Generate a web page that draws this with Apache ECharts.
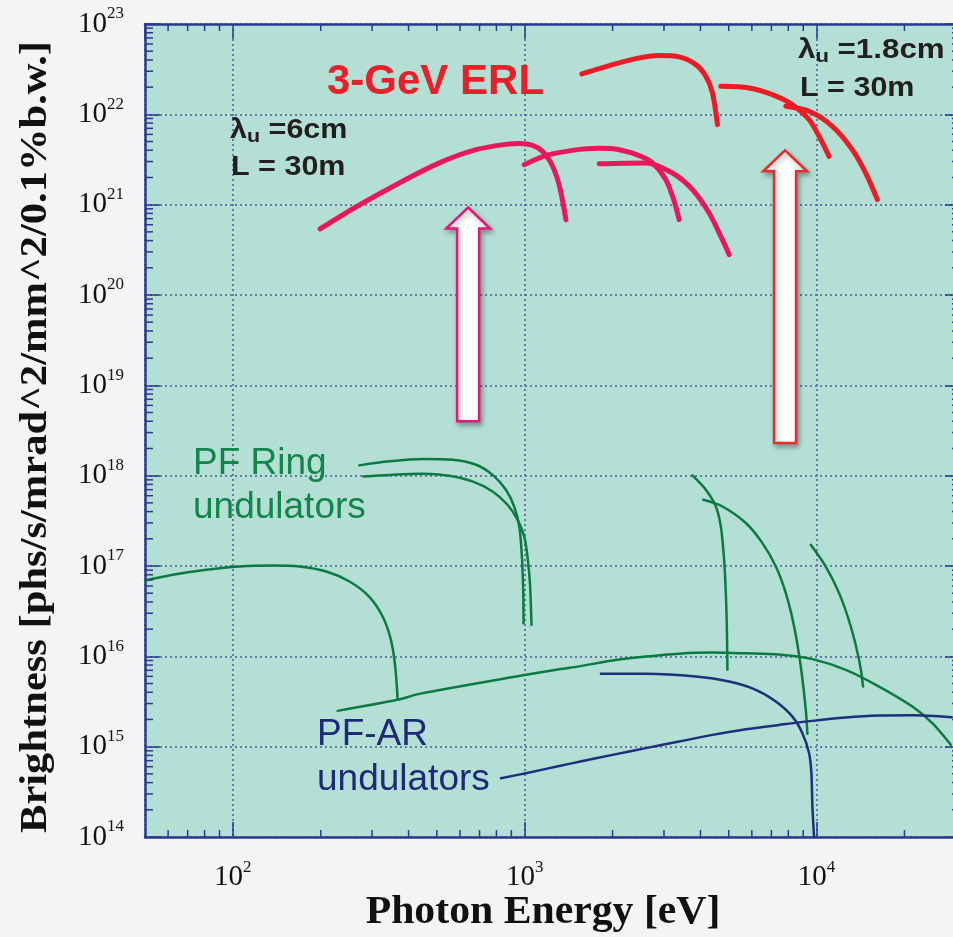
<!DOCTYPE html>
<html><head><meta charset="utf-8">
<script src="https://cdn.jsdelivr.net/npm/echarts@6/dist/echarts.min.js"></script>
<style>html,body{margin:0;padding:0;background:#f3f5f4;overflow:hidden}#c{width:953px;height:937px}</style>
</head><body><div id="c"></div>
<script>
// ---------- axis ranges & ticks ----------
const xMin = 50, xMax = 31000;
const yMin = 1e14, yMax = 1e23;
const xMinorTicks = [60,70,80,90,200,300,400,500,600,700,800,900,2000,3000,4000,5000,6000,7000,8000,9000,20000,30000];
const yMinorTicks = [];
for (let k = 14; k < 23; k++) { for (let m = 2; m <= 9; m++) yMinorTicks.push(m * Math.pow(10, k)); }

// ---------- 3-GeV ERL, lambda_u = 6 cm ----------
const erl6_a = [[199,5.38e20],[264,9.43e20],[372,1.74e21],[510,2.90e21],[681,4.06e21],[862,4.65e21],[960,4.75e21],[1060,4.55e21],[1151,3.89e21],[1230,2.90e21],[1290,2.0e21],[1335,1.3e21],[1384,6.82e20]];
const erl6_b = [[996,2.77e21],[1182,3.49e21],[1458,3.99e21],[1799,4.20e21],[2107,4.06e21],[2467,3.49e21],[2740,2.90e21],[3045,1.89e21],[3250,1.1e21],[3382,6.82e20]];
const erl6_c = [[1799,2.84e21],[2601,2.90e21],[3208,2.24e21],[3755,1.47e21],[4283,8.09e20],[4758,4.10e20],[5016,2.80e20]];
// ---------- 3-GeV ERL, lambda_u = 1.8 cm ----------
const erl18_a = [[1570,2.80e22],[1947,3.46e22],[2403,4.14e22],[2888,4.47e22],[3382,4.32e22],[3857,3.55e22],[4174,2.64e22],[4397,1.73e22],[4575,7.69e21]];
const erl18_b = [[4698,2.04e22],[5873,1.96e22],[7058,1.65e22],[8264,1.28e22],[9426,8.73e21],[10199,5.71e21],[11036,3.43e21]];
const erl18_c = [[7845,1.23e22],[9426,1.08e22],[11328,7.36e21],[13262,4.06e21],[14737,2.24e21],[16152,1.14e21]];
// ---------- PF Ring undulators ----------
const pf_a = [[50,6.91e16],[62.2,7.99e16],[81,9.08e16],[105.3,9.87e16],[136.8,1.01e17],[169,9.87e16],[209,8.69e16],[251,6.74e16],[293,4.59e16],[326,2.76e16],[348,1.52e16],[360,7.71e15],[367,3.30e15]];
const pf_b = [[228.5,2.49e15],[367,3.30e15],[435,3.84e15],[1010,6.24e15],[1313,7.18e15],[1537,7.74e15],[1998,8.99e15],[2601,9.95e15],[3382,1.07e16],[4397,1.10e16],[5722,1.08e16],[7438,1.05e16],[9674,9.31e15],[12590,7.09e15],[16370,4.63e15],[21290,2.78e15],[24920,1.82e15],[28820,1.05e15]];
const pf_c = [[271,1.30e18],[344,1.44e18],[447,1.53e18],[566,1.50e18],[681,1.32e18],[776,1.02e18],[862,6.98e17],[920,4.56e17],[958,2.74e17],[978,1.27e17],[988,5.45e16],[991,2.33e16]];
const pf_d = [[280,9.80e17],[344,1.02e18],[447,1.05e18],[551,9.97e17],[662,8.63e17],[776,6.69e17],[873,4.76e17],[945,3.25e17],[996,2.12e17],[1022,1.27e17],[1042,6.47e16],[1055,2.23e16]];
const pf_e = [[3755,1.005e18],[4174,6.98e17],[4516,4.56e17],[4698,2.74e17],[4822,1.17e17],[4887,5.01e16],[4926,2.14e16],[4949,7.09e15]];
const pf_f = [[4087,5.41e17],[4758,4.56e17],[5722,2.99e17],[6523,1.79e17],[7251,9.87e16],[7845,5.01e16],[8376,2.14e16],[8828,7.71e15],[9183,2.56e15],[9300,1.39e15]];
const pf_g = [[9552,1.72e17],[10752,9.87e16],[11944,5.01e16],[13098,2.14e16],[13982,9.15e15],[14430,4.63e15]];
// ---------- PF-AR undulators ----------
const ar_a = [[1824,6.40e15],[2601,6.40e15],[3857,5.98e15],[5016,5.26e15],[6192,4.26e15],[7251,3.16e15],[8264,2.15e15],[8941,1.41e15],[9426,8.47e14],[9599,5.09e14],[9674,2.17e14],[9804,1.0e14]];
const ar_b = [[829,4.48e14],[1010,5.09e14],[1313,6.11e14],[1537,6.81e14],[1998,8.11e14],[2601,9.63e14],[3382,1.14e15],[4397,1.35e15],[5722,1.56e15],[7438,1.74e15],[9674,1.93e15],[12590,2.10e15],[16370,2.21e15],[21290,2.23e15],[29040,2.12e15]];
// ---------- arrows: [energy, base brightness, tip brightness] ----------
const arrows6 = [[640, 4.0e18, 9.3e20]];
const arrows18 = [[7800, 2.3e18, 4.0e21]];

// ---------- styles ----------
const axisColor = '#2a3a8c';
const gridColor = '#4d5b95';
const C6 = '#e8185c', C18 = '#ec1c24', CG = '#0b7b42', CN = '#1f2e7d';
const serif = "'Liberation Serif','Times New Roman',serif";
const sans = "'Liberation Sans',Arial,sans-serif";

function isDecade(v){ const l = Math.log10(v); return Math.abs(l - Math.round(l)) < 1e-6; }
function supLabel(v){ if (!isDecade(v)) return ''; return '{b|10}{s|' + Math.round(Math.log10(v)) + '}'; }
const labelRich = {
  b: { fontFamily: serif, fontSize: 29, color: '#111' },
  s: { fontFamily: serif, fontSize: 17, color: '#111', padding: [0, 0, 20, 0] }
};

function lineSeries(data, color, width) {
  return { type: 'line', data: data, showSymbol: false, smooth: 0.3, silent: true, z: 3,
    lineStyle: { color: color, width: width, cap: 'round', join: 'round' } };
}
function arrowSeries(data, color) {
  return {
    type: 'custom', data: data, silent: true, z: 4, clip: false,
    encode: { x: 0, y: [1, 2] },
    renderItem: function (params, api) {
      const base = api.coord([api.value(0), api.value(1)]);
      const tip = api.coord([api.value(0), api.value(2)]);
      const cx = base[0], sw = 11, hw = 22, hh = 21;
      const pts = [[cx, tip[1]], [cx + hw, tip[1] + hh], [cx + sw, tip[1] + hh], [cx + sw, base[1]],
                   [cx - sw, base[1]], [cx - sw, tip[1] + hh], [cx - hw, tip[1] + hh]];
      return { type: 'polygon', shape: { points: pts },
        style: { fill: '#ffffff', stroke: color, lineWidth: 2.5, shadowBlur: 5, shadowColor: 'rgba(0,0,0,0.3)', shadowOffsetX: 2, shadowOffsetY: 3 } };
    }
  };
}
function minorX() {
  return { type: 'custom', data: xMinorTicks.map(v => [v, yMin]), silent: true, z: 6, clip: false,
    renderItem: function (params, api) {
      const p = api.coord([api.value(0), api.value(1)]);
      const cs = params.coordSys;
      return { type: 'group', children: [
        { type: 'line', shape: { x1: p[0], y1: cs.y + cs.height, x2: p[0], y2: cs.y + cs.height - 7 }, style: { stroke: axisColor, lineWidth: 1.5 } },
        { type: 'line', shape: { x1: p[0], y1: cs.y, x2: p[0], y2: cs.y + 7 }, style: { stroke: axisColor, lineWidth: 1.5 } }
      ] };
    } };
}
function minorY() {
  return { type: 'custom', data: yMinorTicks.map(v => [xMin, v]), silent: true, z: 6, clip: false,
    renderItem: function (params, api) {
      const p = api.coord([api.value(0), api.value(1)]);
      const cs = params.coordSys;
      return { type: 'group', children: [
        { type: 'line', shape: { x1: cs.x, y1: p[1], x2: cs.x + 8, y2: p[1] }, style: { stroke: axisColor, lineWidth: 1.5 } },
        { type: 'line', shape: { x1: cs.x + cs.width, y1: p[1], x2: cs.x + cs.width - 8, y2: p[1] }, style: { stroke: axisColor, lineWidth: 1.5 } }
      ] };
    } };
}

const chart = echarts.init(document.getElementById('c'), null, { renderer: 'canvas' });
const axisLine = { show: true, onZero: false, lineStyle: { color: axisColor, width: 2.5 } };
const majorTick = { show: true, inside: true, length: 15, lineStyle: { color: axisColor, width: 1.5 } };
const split = { show: true, lineStyle: { color: gridColor, width: 1.5, type: [2, 3] } };
const dark = '#231f20';
const richLam = { a: { fontFamily: sans, fontWeight: 'bold', fontSize: 27, fill: dark }, u: { fontFamily: sans, fontWeight: 'bold', fontSize: 19, fill: dark, padding: [12, 0, 0, 0] } };

chart.setOption({
  backgroundColor: '#f3f5f4',
  animation: false,
  grid: { left: 145, top: 24, width: 815, height: 813, show: true, backgroundColor: '#b3dfd5', borderWidth: 0,
          containLabel: false, outerBoundsMode: 'none' },
  xAxis: [
    { type: 'log', logBase: 10, min: xMin, max: xMax, position: 'bottom', axisLine: axisLine, axisTick: majorTick,
      splitLine: split, minorTick: { show: false },
      axisLabel: { formatter: supLabel, rich: labelRich, margin: 22, showMinLabel: false, showMaxLabel: false } },
    { type: 'log', logBase: 10, min: xMin, max: xMax, position: 'top', axisLine: axisLine, axisTick: majorTick,
      splitLine: { show: false }, axisLabel: { show: false } }
  ],
  yAxis: [
    { type: 'log', logBase: 10, min: yMin, max: yMax, position: 'left', axisLine: axisLine, axisTick: majorTick,
      splitLine: split,
      axisLabel: { formatter: supLabel, rich: labelRich, margin: 21 } },
    { type: 'log', logBase: 10, min: yMin, max: yMax, position: 'right', axisLine: axisLine, axisTick: majorTick,
      splitLine: { show: false }, axisLabel: { show: false } }
  ],
  series: [
    minorX(), minorY(),
    lineSeries(pf_a, CG, 2.5), lineSeries(pf_b, CG, 2.5), lineSeries(pf_c, CG, 2.5), lineSeries(pf_d, CG, 2.5),
    lineSeries(pf_e, CG, 2.5), lineSeries(pf_f, CG, 2.5), lineSeries(pf_g, CG, 2.5),
    lineSeries(ar_a, CN, 2.5), lineSeries(ar_b, CN, 2.5),
    lineSeries(erl6_a, C6, 5), lineSeries(erl6_b, C6, 5), lineSeries(erl6_c, C6, 5),
    lineSeries(erl18_a, C18, 5), lineSeries(erl18_b, C18, 5), lineSeries(erl18_c, C18, 5),
    arrowSeries(arrows6, '#e6187a'), arrowSeries(arrows18, '#ee2a2a')
  ],
  graphic: [
    { type: 'text', z: 50, x: 36, y: 437, rotation: Math.PI / 2, scaleX: 1.12,
      style: { text: 'Brightness [phs/s/mrad^2/mm^2/0.1%b.w.]', x: 0, y: 0, align: 'center', verticalAlign: 'middle', font: "bold 38px " + serif, fill: '#111' } },
    { type: 'text', z: 50, x: 543, y: 913, scaleX: 1.07,
      style: { text: 'Photon Energy [eV]', x: 0, y: 0, align: 'center', verticalAlign: 'middle', font: "bold 39px " + serif, fill: '#111' } },
    { type: 'text', z: 50, x: 327, y: 82, scaleX: 1.0,
      style: { text: '3-GeV ERL', x: 0, y: 0, align: 'left', verticalAlign: 'middle', font: "bold 42px " + sans, fill: '#e8202a' } },
    { type: 'text', z: 50, x: 230, y: 131, scaleX: 1.13,
      style: { text: '{a|λ}{u|u}{a| =6cm}', x: 0, y: 0, align: 'left', verticalAlign: 'middle', rich: richLam } },
    { type: 'text', z: 50, x: 231, y: 168, scaleX: 1.13,
      style: { text: 'L = 30m', x: 0, y: 0, align: 'left', verticalAlign: 'middle', font: "bold 27px " + sans, fill: dark } },
    { type: 'text', z: 50, x: 798, y: 51, scaleX: 1.16,
      style: { text: '{a|λ}{u|u}{a| =1.8cm}', x: 0, y: 0, align: 'left', verticalAlign: 'middle', rich: richLam } },
    { type: 'text', z: 50, x: 800, y: 89, scaleX: 1.13,
      style: { text: 'L = 30m', x: 0, y: 0, align: 'left', verticalAlign: 'middle', font: "bold 27px " + sans, fill: dark } },
    { type: 'text', z: 50, style: { text: 'PF Ring', x: 193, y: 464, align: 'left', verticalAlign: 'middle', font: "37px " + sans, fill: '#12864a' } },
    { type: 'text', z: 50, style: { text: 'undulators', x: 193, y: 508, align: 'left', verticalAlign: 'middle', font: "37px " + sans, fill: '#12864a' } },
    { type: 'text', z: 50, style: { text: 'PF-AR', x: 317, y: 735, align: 'left', verticalAlign: 'middle', font: "37px " + sans, fill: '#1e2a78' } },
    { type: 'text', z: 50, style: { text: 'undulators', x: 317, y: 780, align: 'left', verticalAlign: 'middle', font: "37px " + sans, fill: '#1e2a78' } }
  ]
});
</script></body></html>
